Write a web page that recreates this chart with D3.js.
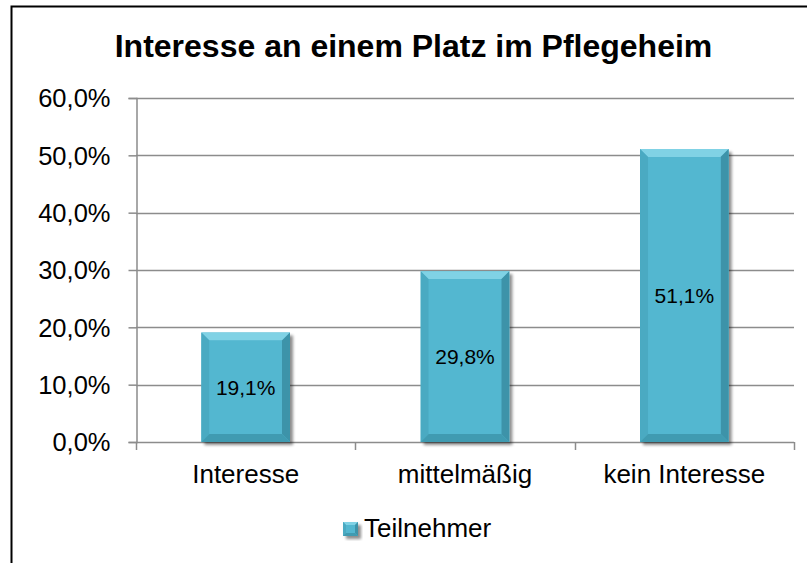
<!DOCTYPE html>
<html>
<head>
<meta charset="utf-8">
<script src="https://cdn.jsdelivr.net/npm/d3@7/dist/d3.min.js"></script>
<style>
  html, body { margin: 0; padding: 0; background: #fff; }
  svg { display: block; }
  text { font-family: "Liberation Sans", Arial, sans-serif; fill: #000; }
</style>
</head>
<body>
<svg id="chart" width="807" height="563"></svg>
<script>
const title = "Interesse an einem Platz im Pflegeheim";
const categories = ["Interesse", "mittelmäßig", "kein Interesse"];
const values = [19.1, 29.8, 51.1];
const seriesName = "Teilnehmer";
const yTicks = [0, 10, 20, 30, 40, 50, 60];

const fmt = v => v.toFixed(1).replace(".", ",") + "%";

const svg = d3.select("#chart");
const plot = { left: 136, right: 794, top: 98, bottom: 442 };

const defs = svg.append("defs");
const f = defs.append("filter").attr("id", "shadow").attr("x", "-20%").attr("y", "-20%").attr("width", "150%").attr("height", "150%");
f.append("feGaussianBlur").attr("in", "SourceAlpha").attr("stdDeviation", 1.8);
f.append("feOffset").attr("dx", 2.5).attr("dy", 2.5).attr("result", "ob");
f.append("feComponentTransfer").append("feFuncA").attr("type", "linear").attr("slope", 0.45);
const fm = f.append("feMerge");
fm.append("feMergeNode");
fm.append("feMergeNode").attr("in", "SourceGraphic");

// Outer border
svg.append("rect")
  .attr("x", 11.5).attr("y", 6.5).attr("width", 820).attr("height", 620)
  .attr("fill", "#fff").attr("stroke", "#000").attr("stroke-width", 2);

// Title
svg.append("text")
  .attr("x", 413.5).attr("y", 57)
  .attr("text-anchor", "middle")
  .attr("font-size", 32).attr("font-weight", "bold")
  .text(title);

const x = d3.scaleBand()
  .domain(categories)
  .range([plot.left, plot.right])
  .paddingInner(0.596)
  .paddingOuter(0.298);

const y = d3.scaleLinear().domain([0, 60]).range([plot.bottom, plot.top]);

// Gridlines
svg.append("g")
  .selectAll("line")
  .data(yTicks.filter(t => t > 0))
  .join("line")
  .attr("x1", plot.left).attr("x2", plot.right)
  .attr("y1", d => Math.round(y(d)) + 0.5).attr("y2", d => Math.round(y(d)) + 0.5)
  .attr("stroke", "#8c8c8c").attr("stroke-width", 1.5);

// Y axis
const yAxis = svg.append("g")
  .attr("transform", `translate(${plot.left + 0.5},0)`)
  .call(d3.axisLeft(y).tickValues(yTicks).tickFormat(fmt).tickSize(8).tickPadding(18));
yAxis.select(".domain").attr("stroke", "#8c8c8c").attr("stroke-width", 1.5);
yAxis.selectAll(".tick line").attr("stroke", "#8c8c8c").attr("stroke-width", 1.5);
yAxis.selectAll(".tick text")
  .attr("font-size", 25.5).attr("font-family", "Liberation Sans, Arial, sans-serif")
  .attr("fill", "#000").attr("dy", "0.34em");

// X axis
const xAxis = svg.append("g")
  .attr("transform", `translate(0,${plot.bottom + 0.5})`)
  .call(d3.axisBottom(x).tickSize(0).tickPadding(0));
xAxis.select(".domain").attr("stroke", "#8c8c8c").attr("stroke-width", 1.5)
  .attr("d", `M${plot.left},0H${plot.right}`);
xAxis.selectAll(".tick text")
  .attr("font-size", 26).attr("font-family", "Liberation Sans, Arial, sans-serif")
  .attr("fill", "#000").attr("y", 40).attr("dy", 0);
// category boundary ticks
const bounds = d3.range(categories.length + 1).map(i => plot.left + i * (plot.right - plot.left) / categories.length);
svg.append("g").selectAll("line").data(bounds).join("line")
  .attr("x1", d => Math.round(d) + 0.5).attr("x2", d => Math.round(d) + 0.5)
  .attr("y1", plot.bottom).attr("y2", plot.bottom + 8)
  .attr("stroke", "#8c8c8c").attr("stroke-width", 1.5);

// Beveled bar drawing
function bevelBar(g, x0, y0, w, h, b) {
  const x1 = x0 + w, y1 = y0 + h;
  g.append("rect").attr("x", x0).attr("y", y0).attr("width", w).attr("height", h)
    .attr("fill", "#52b5cd").attr("filter", "url(#shadow)");
  g.append("path").attr("d", `M${x0},${y0}L${x1},${y0}L${x1 - b},${y0 + b}L${x0 + b},${y0 + b}Z`).attr("fill", "#80d2e5");
  g.append("path").attr("d", `M${x0},${y0}L${x0 + b},${y0 + b}L${x0 + b},${y1 - b}L${x0},${y1}Z`).attr("fill", "#4aaac2");
  g.append("path").attr("d", `M${x1},${y0}L${x1},${y1}L${x1 - b},${y1 - b}L${x1 - b},${y0 + b}Z`).attr("fill", "#3d93a9");
  g.append("path").attr("d", `M${x0},${y1}L${x0 + b},${y1 - b}L${x1 - b},${y1 - b}L${x1},${y1}Z`).attr("fill", "#409bb1");
  g.append("rect").attr("x", x0 + b).attr("y", y0 + b).attr("width", w - 2 * b).attr("height", h - 2 * b).attr("fill", "#53b7d0");
}

const bars = svg.append("g");
categories.forEach((c, i) => {
  const g = bars.append("g");
  bevelBar(g, x(c), y(values[i]), x.bandwidth(), y(0) - y(values[i]), 8);
});

// Value labels
svg.append("g").selectAll("text")
  .data(values)
  .join("text")
  .attr("x", (d, i) => x(categories[i]) + x.bandwidth() / 2)
  .attr("y", d => (y(d) + y(0)) / 2)
  .attr("dy", "0.36em")
  .attr("text-anchor", "middle")
  .attr("font-size", 21)
  .text(d => fmt(d));

// Legend
const lg = svg.append("g");
bevelBar(lg, 343, 522, 15, 14, 3);
lg.append("text").attr("x", 364).attr("y", 537).attr("font-size", 26).text(seriesName);
</script>
</body>
</html>
